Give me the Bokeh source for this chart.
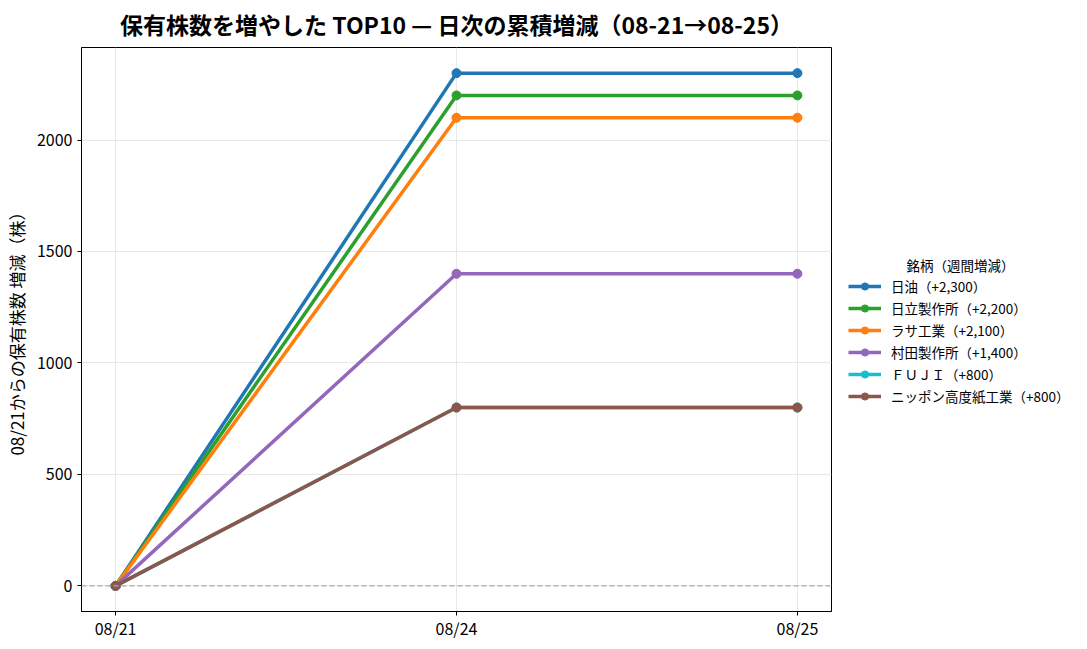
from bokeh.plotting import figure
from bokeh.layouts import row
from bokeh.models import (Range1d, FixedTicker, SingleIntervalTicker, Legend,
                          LegendItem, Span, Label)
from bokeh.embed import file_html
from bokeh.resources import INLINE

dates = ["08/21", "08/24", "08/25"]
names = ["日油", "日立製作所", "ラサ工業", "村田製作所", "ＦＵＪＩ", "ニッポン高度紙工業"]
nichiyu = [0, 2300, 2300]
hitachi = [0, 2200, 2200]
rasa = [0, 2100, 2100]
murata = [0, 1400, 1400]
fuji = [0, 800, 800]
nippon = [0, 800, 800]
series = [nichiyu, hitachi, rasa, murata, fuji, nippon]
colors = ["#1f77b4", "#2ca02c", "#ff7f0e", "#9467bd", "#17becf", "#8c564b"]

FONT = "Noto Sans CJK JP"
xs = list(range(len(dates)))

p = figure(width=833, height=642,
           x_range=Range1d(-0.1, 2.1), y_range=Range1d(-115, 2415),
           output_backend="svg", toolbar_location=None,
           min_border_left=80, min_border_right=2,
           min_border_top=47, min_border_bottom=31)
p.title.text = "保有株数を増やした TOP10 — 日次の累積増減（08-21→08-25）"
p.title.text_font = FONT
p.title.text_font_size = "23px"
p.title.text_font_style = "bold"
p.title.text_color = "black"
p.title.align = "center"
p.title.vertical_align = "top"

p.add_layout(Span(location=0, dimension="width", line_color="#aaaaaa",
                  line_dash="5 3", line_width=1.2))

for vals, c in zip(series, colors):
    p.line(xs, vals, line_color=c, line_width=3.5)
    p.scatter(xs, vals, marker="circle", size=9, fill_color=c, line_color=c)

p.xaxis.ticker = FixedTicker(ticks=xs)
p.xaxis.major_label_overrides = {i: d for i, d in zip(xs, dates)}
p.xaxis.major_label_standoff = 0
p.yaxis.ticker = SingleIntervalTicker(interval=500)
p.yaxis.axis_label = "08/21からの保有株数 増減（株）"

for ax in [p.xaxis[0], p.yaxis[0]]:
    ax.major_label_text_font = FONT
    ax.major_label_text_font_size = "16px"
    ax.major_label_text_color = "black"
    ax.axis_label_text_font = FONT
    ax.axis_label_text_font_size = "17px"
    ax.axis_label_text_font_style = "normal"
    ax.axis_label_text_color = "black"
    ax.axis_line_color = "black"
    ax.major_tick_line_color = "black"
    ax.major_tick_out = 4
    ax.major_tick_in = 0
    ax.minor_tick_line_color = None

p.xgrid.ticker = FixedTicker(ticks=xs)
p.grid.grid_line_color = "#e8e8e8"
p.outline_line_color = "black"
p.outline_line_alpha = 1

# legend lives in its own figure to the right of the plot
lg = figure(width=238, height=642, x_range=Range1d(10, 11), y_range=Range1d(10, 11),
            output_backend="svg", toolbar_location=None, min_border=0)
lg.axis.visible = False
lg.grid.visible = False
lg.outline_line_color = None

items = []
for name, vals, c in zip(names, series, colors):
    r1 = lg.line(xs, vals, line_color=c, line_width=3.5)
    r2 = lg.scatter(xs, vals, marker="circle", size=9, fill_color=c, line_color=c)
    items.append(LegendItem(label=f"{name}（+{vals[-1]:,}）", renderers=[r1, r2]))

legend = Legend(items=items, location=(5, 195))
legend.label_text_font = FONT
legend.label_text_font_size = "13.5px"
legend.label_text_color = "black"
legend.border_line_alpha = 0
legend.background_fill_alpha = 0
legend.glyph_width = 33
legend.glyph_height = 18
legend.label_height = 18
legend.label_standoff = 10
legend.spacing = 2
legend.margin = 0
legend.padding = 10
lg.add_layout(legend, "center")

lg.add_layout(Label(x=127, y=347, x_units="screen", y_units="screen",
                    text="銘柄（週間増減）", text_align="center",
                    text_baseline="middle", text_font=FONT,
                    text_font_size="13.5px", text_color="black"))

open("out.html", "w").write(file_html(row(p, lg), INLINE))
